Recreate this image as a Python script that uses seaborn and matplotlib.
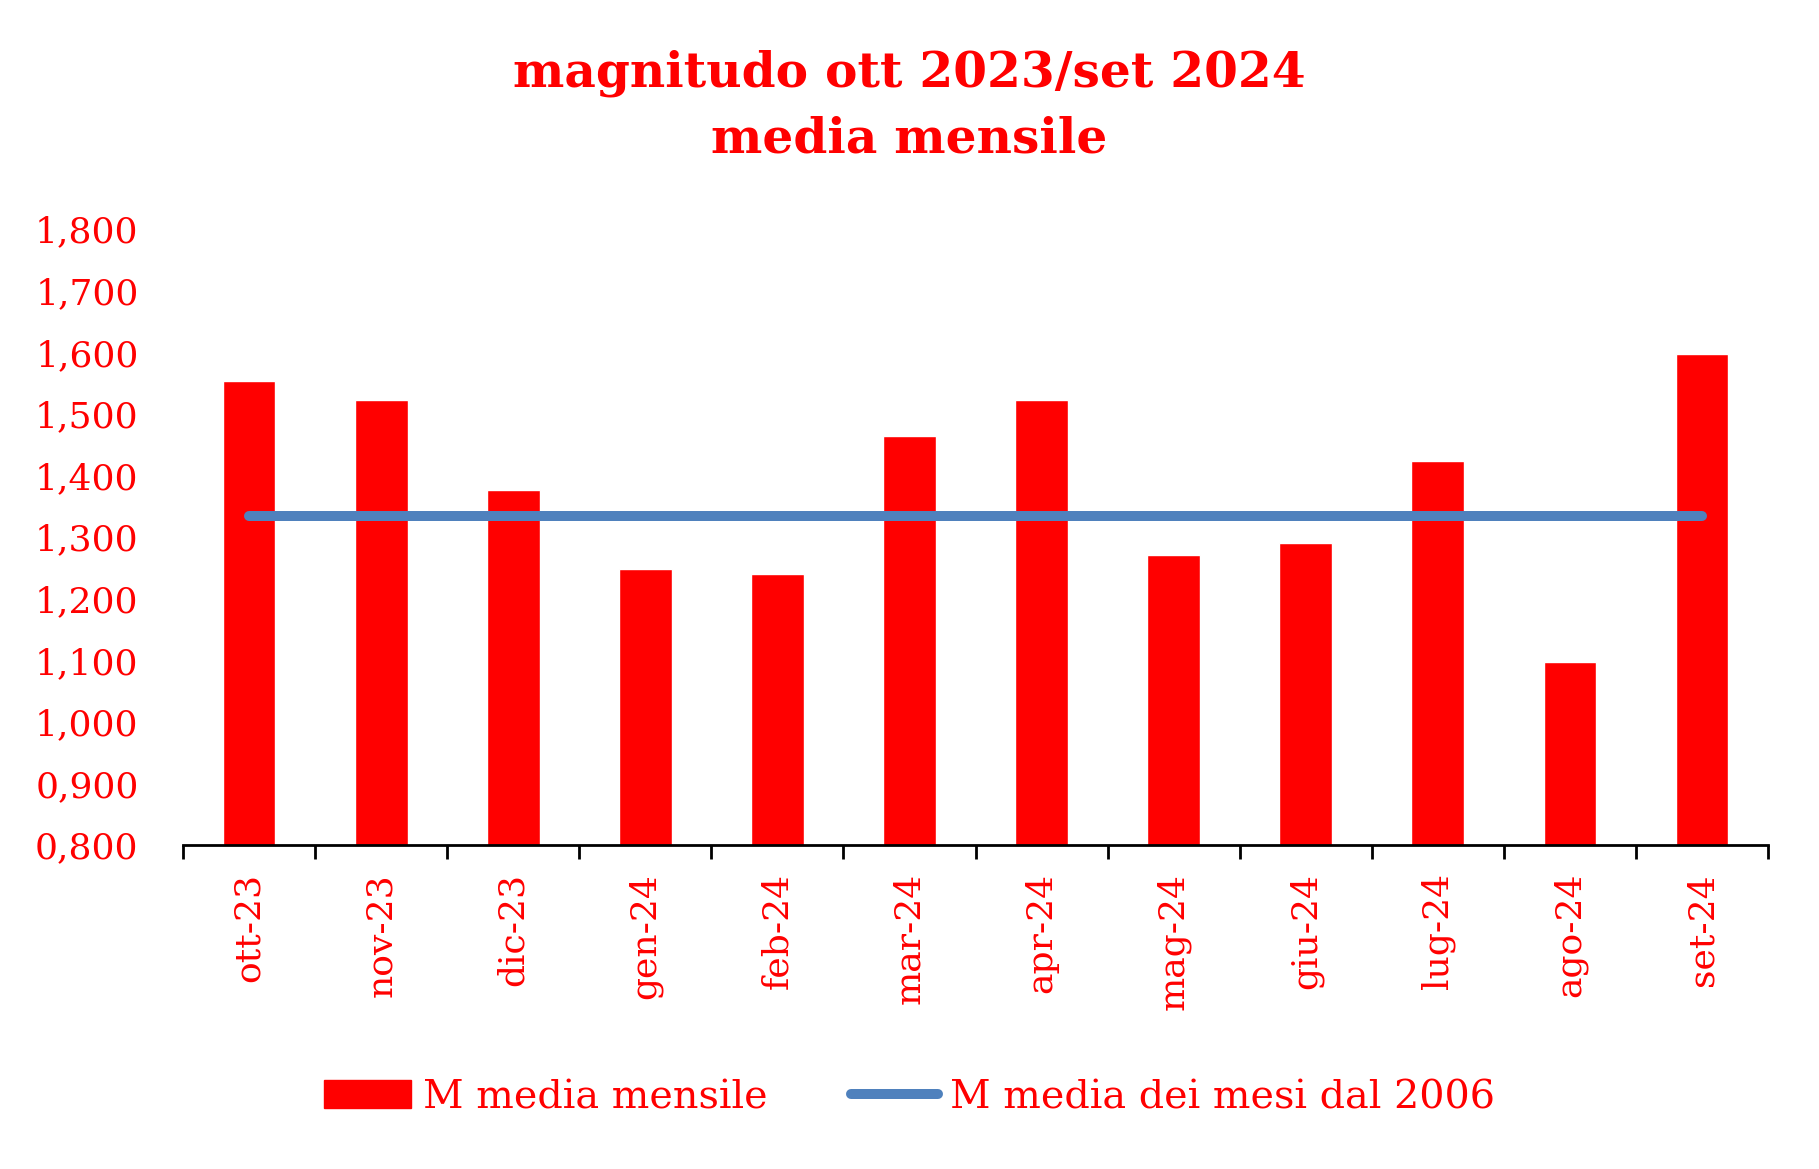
import numpy as np
import pandas as pd
import matplotlib
matplotlib.use("Agg")
import matplotlib.pyplot as plt
import seaborn as sns
from matplotlib.patches import Patch
from matplotlib.lines import Line2D
from matplotlib.ticker import FuncFormatter

months = ["ott-23", "nov-23", "dic-23", "gen-24", "feb-24", "mar-24",
          "apr-24", "mag-24", "giu-24", "lug-24", "ago-24", "set-24"]
monthly_mean = [1.553, 1.523, 1.376, 1.248, 1.241, 1.465,
                1.523, 1.271, 1.290, 1.423, 1.098, 1.598]
overall_mean = 1.335

title_text = "magnitudo ott 2023/set 2024\nmedia mensile"
bar_label = "M media mensile"
line_label = "M media dei mesi dal 2006"

RED = "#FF0000"
BLUE = "#4F81BD"

sns.set_theme(style="white")
plt.rcParams["font.family"] = ["DejaVu Serif", "Liberation Serif"]

df = pd.DataFrame({"month": months, "value": monthly_mean})

fig = plt.figure(figsize=(18.19, 11.69), dpi=100)
ax = fig.add_axes([0.1006, 0.277, 0.8714, 0.527])

sns.barplot(data=df, x="month", y="value", color=RED, width=0.4,
            saturation=1, ax=ax)
sns.lineplot(x=np.arange(len(months)), y=[overall_mean] * len(months),
             color=BLUE, linewidth=7.2, ax=ax,
             solid_capstyle="round")

ax.set_ylim(0.8, 1.8)
ax.set_xlim(-0.5, len(months) - 0.5)
ax.set_yticks(np.arange(0.8, 1.81, 0.1))
ax.yaxis.set_major_formatter(FuncFormatter(lambda v, p: f"{v:.3f}".replace(".", ",")))
ax.set_xlabel("")
ax.set_ylabel("")

for s in ["top", "right", "left"]:
    ax.spines[s].set_visible(False)
ax.spines["bottom"].set_color("black")
ax.spines["bottom"].set_linewidth(2)

ax.set_xticks(np.arange(len(months)))
ax.set_xticklabels(months, rotation=90, color=RED, fontsize=26)
ax.set_xticks(np.arange(-0.5, len(months)), minor=True)
ax.tick_params(axis="x", which="major", length=0, pad=20)
ax.tick_params(axis="x", which="minor", length=10, width=2, color="black",
               direction="out", bottom=True)
ax.tick_params(axis="y", length=0, labelsize=26, labelcolor=RED, pad=32)

fig.suptitle(title_text, color=RED, fontsize=35, fontweight="bold",
             y=0.958, linespacing=1.5)

handles = [Patch(facecolor=RED, edgecolor=RED, label=bar_label),
           Line2D([0], [0], color=BLUE, linewidth=7.2, solid_capstyle="round",
                  label=line_label)]
leg = fig.legend(handles=handles, loc="center", bbox_to_anchor=(0.5, 0.061),
                 ncol=2, frameon=False, fontsize=28.5, handlelength=2.2,
                 handleheight=0.7, handletextpad=0.3, columnspacing=2.1)
for t in leg.get_texts():
    t.set_color(RED)

fig.savefig("out.png", dpi=100)
